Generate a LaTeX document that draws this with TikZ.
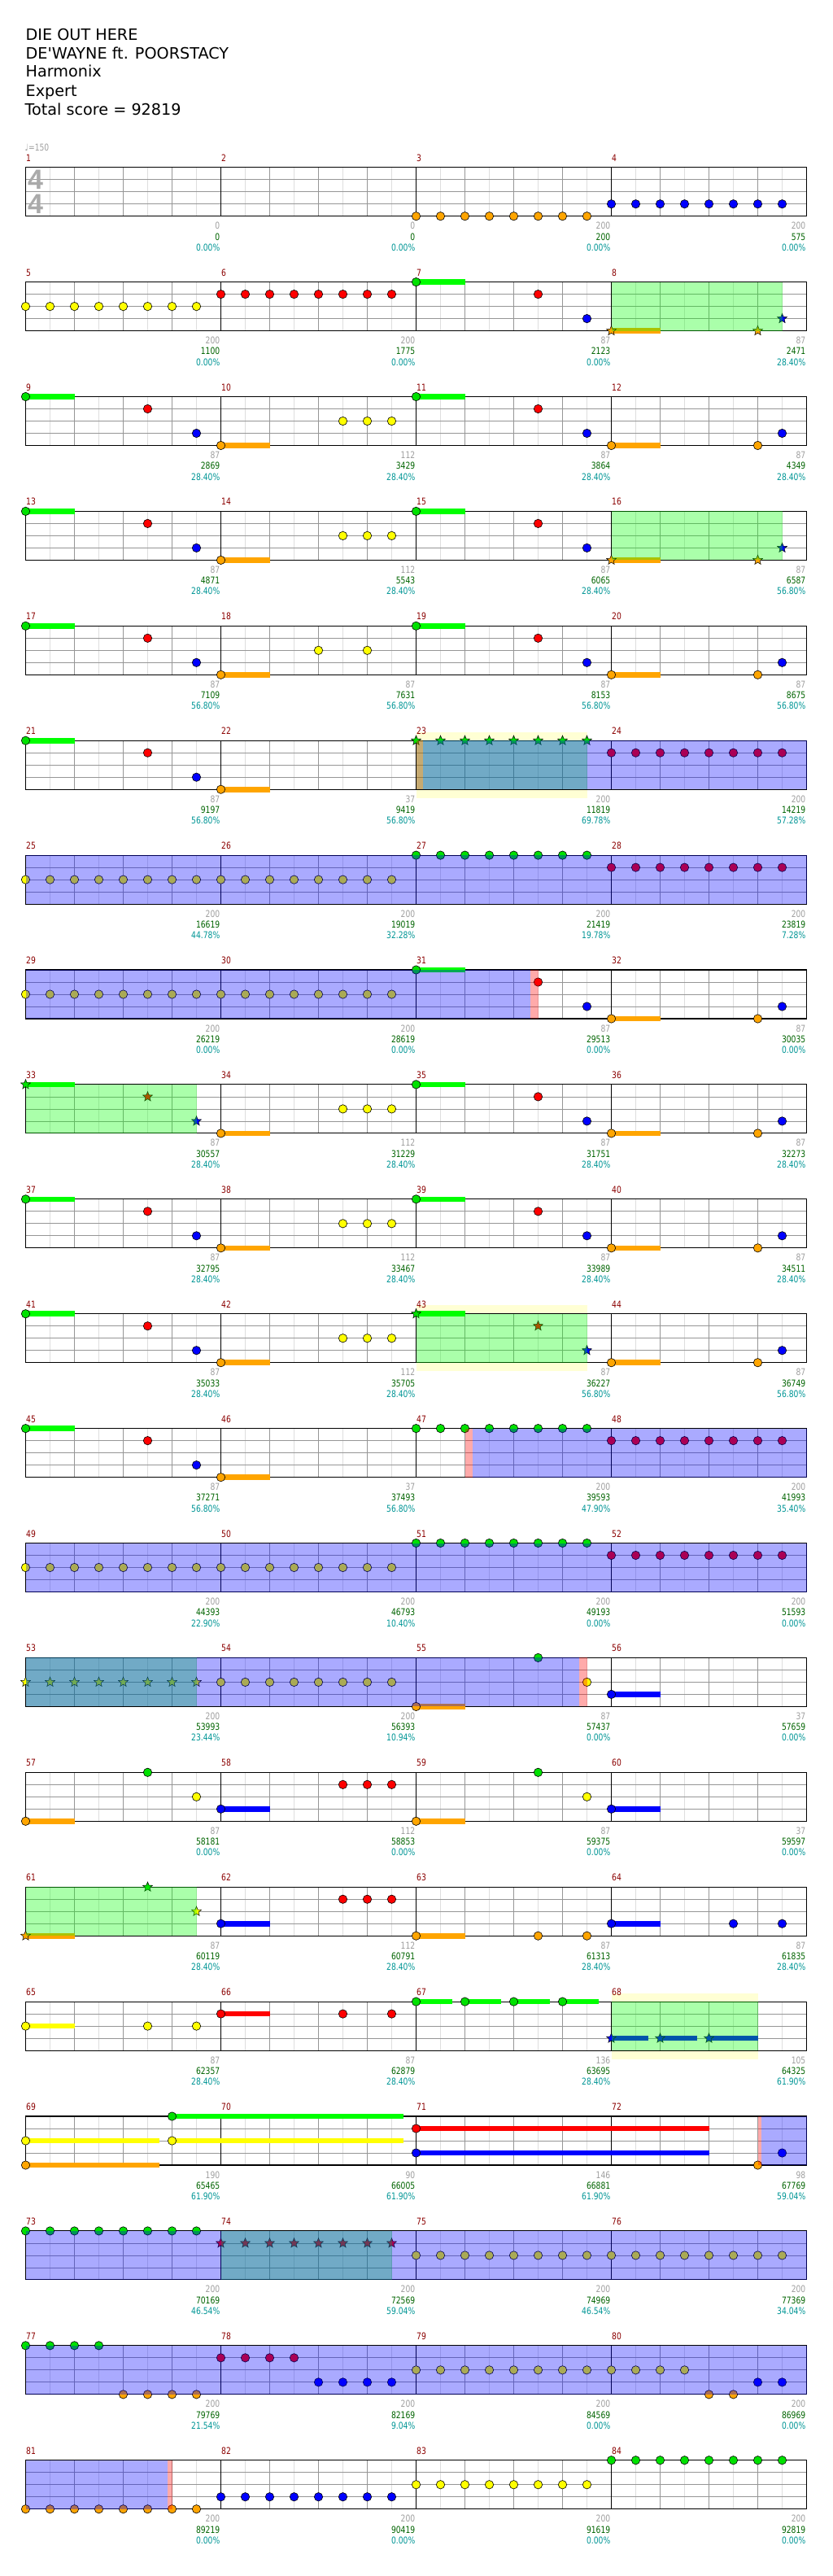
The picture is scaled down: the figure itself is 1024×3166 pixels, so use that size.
\documentclass[tikz,border=0pt]{standalone}
\usepackage{fontspec}
\usetikzlibrary{shapes.geometric}
\newfontfamily\titlefont{DejaVu Sans}
\newfontfamily\labfont[FakeStretch=0.8]{DejaVu Sans}
\newfontfamily\tsfont{Liberation Sans}
\definecolor{lc0}{RGB}{0,225,0}
\definecolor{lc1}{RGB}{255,0,0}
\definecolor{lc2}{RGB}{255,255,0}
\definecolor{lc3}{RGB}{0,0,255}
\definecolor{lc4}{RGB}{255,165,0}
\definecolor{sc0}{RGB}{0,255,0}
\definecolor{sc1}{RGB}{255,0,0}
\definecolor{sc2}{RGB}{255,255,0}
\definecolor{sc3}{RGB}{0,0,255}
\definecolor{sc4}{RGB}{255,165,0}
\definecolor{gridmid}{RGB}{150,150,150}
\definecolor{gridlight}{RGB}{222,222,222}
\definecolor{mnum}{RGB}{139,0,0}
\definecolor{lgray}{RGB}{160,160,160}
\definecolor{lgreen}{RGB}{0,100,0}
\definecolor{lteal}{RGB}{0,150,150}
\definecolor{paley}{RGB}{255,255,212}
\definecolor{tsgray}{RGB}{170,170,170}
\definecolor{spgreen}{RGB}{0,255,0}
\newcommand\gpos[3]{%
  \pgfmathsetmacro\gx{31.5+240*(mod(#1-1,4)+(#2))}%
  \pgfmathsetmacro\gy{205.7+140.9*floor((#1-1)/4)+15*(#3)}}
\newcommand\gnote[3]{\gpos{#1}{#2}{#3}\filldraw[fill=lc#3,draw=black,line width=0.6pt] (\gx,\gy) circle (5.2);}
\newcommand\gstar[3]{\gpos{#1}{#2}{#3}\node[starnote,fill=lc#3] at (\gx,\gy) {};}
\newcommand\gsus[4]{\gpos{#1}{#2}{#4}\let\gxa\gx\gpos{#1}{#3}{#4}\fill[sc#4] (\gxa,\gy-3.3) rectangle (\gx,\gy+3.3);}
\newcommand\greg[4]{\pgfmathsetmacro\ga{31.5+240*(#2)}\pgfmathsetmacro\gb{31.5+240*(#3)}\pgfmathsetmacro\gt{205.7+140.9*(#1)}\fill[#4] (\ga,\gt) rectangle (\gb,\gt+60);}
\newcommand\gyel[3]{\pgfmathsetmacro\ga{31.5+240*(#2)}\pgfmathsetmacro\gb{31.5+240*(#3)}\pgfmathsetmacro\gt{205.7+140.9*(#1)}\fill[paley] (\ga,\gt-10.5) rectangle (\gb,\gt+70.5);}
\begin{document}
\begin{tikzpicture}[x=1pt,y=-1pt,
  starnote/.style={star,star points=5,star point ratio=2.3,minimum size=12.5pt,inner sep=0pt,draw=black,line width=0.5pt},
  spov/.style={fill=spgreen,fill opacity=0.333},
  actov/.style={fill=blue,fill opacity=0.333},
  pinkov/.style={fill=red,fill opacity=0.333},
  labst/.style={anchor=base east,inner sep=0pt,font=\labfont\fontsize{11.5}{12}\selectfont},
  mnumst/.style={anchor=base west,inner sep=0pt,text=mnum,font=\labfont\fontsize{11.5}{12}\selectfont},
  titlest/.style={anchor=base west,inner sep=0pt,font=\titlefont\fontsize{19.2}{23}\selectfont}]
\useasboundingbox (0,0) rectangle (1024,3166);
\fill[white] (0,0) rectangle (1024,3166);
% title
\node[titlest] (t1) at (31.5,49.3) {DIE OUT HERE};
\node[titlest] (t2) at (31.5,72.3) {DE{\char"27}WAYNE ft. POORSTACY};
\node[titlest] (t3) at (31.5,95) {Harmonix};
\node[titlest] (t4) at (31.5,118.3) {Expert};
\node[titlest] (t5) at (30.5,141.7) {Total score = 92819};
\node[anchor=base west,inner sep=0pt,text=lgray,font=\labfont\fontsize{11.5}{12}\selectfont] (tempo) at (30.5,185.3) {♩=150};
% pale yellow regions
\gyel{5}{2}{2.875}
\gyel{10}{2}{2.875}
\gyel{16}{3}{3.75}
% staff grids
\foreach \r in {0,...,20}{
  \pgfmathsetmacro\gt{205.7+140.9*\r}
  \fill[white] (31.5,\gt) rectangle (991.5,\gt+60);
  \foreach \i in {1,3,...,31} \draw[gridlight,line width=0.7pt] (31.5+30*\i,\gt) -- ++(0,60);
  \foreach \i in {2,4,6,10,12,14,18,20,22,26,28,30} \draw[gridmid,line width=0.7pt] (31.5+30*\i,\gt) -- ++(0,60);
  \foreach \j in {1,2,3} \draw[gridmid,line width=0.8pt] (31.5,\gt+15*\j) -- (991.5,\gt+15*\j);
  \foreach \k in {1,2,3} \draw[black,line width=0.8pt] (31.5+240*\k,\gt) -- ++(0,60);
  \draw[black,line width=1.1pt] (31.5,\gt) rectangle (991.5,\gt+60);
}
\node[anchor=base west,inner sep=0pt,text=tsgray,font=\tsfont\bfseries\fontsize{34}{34}\selectfont] (ts1) at (34,232.3) {4};
\node[anchor=base west,inner sep=0pt,text=tsgray,font=\tsfont\bfseries\fontsize{34}{34}\selectfont] (ts2) at (34,262.3) {4};
% runs of eight notes
\foreach \m/\l in {3/4,4/3,5/2,6/1,24/1,25/2,26/2,27/0,28/1,29/2,30/2,47/0,48/1,49/2,50/2,51/0,52/1,54/2,73/0,75/2,76/2,79/2,81/4,82/3,83/2,84/0}
  \foreach \f in {0,...,7} {\gnote{\m}{\f/8}{\l}}
\foreach \m/\l in {23/0,53/2,74/1}
  \foreach \f in {0,...,7} {\gstar{\m}{\f/8}{\l}}
% pattern A
\foreach \m in {7,9,11,13,15,17,19,21,31,35,37,39,41,45}{\gsus{\m}{0}{0.25}{0}\gnote{\m}{0}{0}\gnote{\m}{5/8}{1}\gnote{\m}{7/8}{3}}
% pattern B
\foreach \m in {10,14,34,38,42}{\gsus{\m}{0}{0.25}{4}\gnote{\m}{0}{4}\gnote{\m}{5/8}{2}\gnote{\m}{6/8}{2}\gnote{\m}{7/8}{2}}
% pattern C
\foreach \m in {12,20,32,36,40,44}{\gsus{\m}{0}{0.25}{4}\gnote{\m}{0}{4}\gnote{\m}{6/8}{4}\gnote{\m}{7/8}{3}}
\foreach \m in {8,16}{\gsus{\m}{0}{0.25}{4}\gstar{\m}{0}{4}\gstar{\m}{6/8}{4}\gstar{\m}{7/8}{3}}
\foreach \m in {33,43}{\gsus{\m}{0}{0.25}{0}\gstar{\m}{0}{0}\gstar{\m}{5/8}{1}\gstar{\m}{7/8}{3}}
% others
\gsus{18}{0}{0.25}{4}\gnote{18}{0}{4}\gnote{18}{4/8}{2}\gnote{18}{6/8}{2}
\foreach \m in {22,46}{\gsus{\m}{0}{0.25}{4}\gnote{\m}{0}{4}}
\foreach \m in {55,57,59}{\gsus{\m}{0}{0.25}{4}\gnote{\m}{0}{4}\gnote{\m}{5/8}{0}\gnote{\m}{7/8}{2}}
\foreach \m in {56,60}{\gsus{\m}{0}{0.25}{3}\gnote{\m}{0}{3}}
\foreach \m in {58,62}{\gsus{\m}{0}{0.25}{3}\gnote{\m}{0}{3}\gnote{\m}{5/8}{1}\gnote{\m}{6/8}{1}\gnote{\m}{7/8}{1}}
\gsus{61}{0}{0.25}{4}\gstar{61}{0}{4}\gstar{61}{5/8}{0}\gstar{61}{7/8}{2}
\foreach \m/\l in {63/4,64/3,65/2,66/1}{\gsus{\m}{0}{0.25}{\l}\gnote{\m}{0}{\l}\gnote{\m}{5/8}{\l}\gnote{\m}{7/8}{\l}}
\foreach \f in {0,0.25,0.5,0.75}{\gsus{67}{\f}{\f+0.185}{0}\gnote{67}{\f}{0}}
\gsus{68}{0}{0.19}{3}\gsus{68}{0.25}{0.44}{3}\gsus{68}{0.5}{0.75}{3}
\gstar{68}{0}{3}\gstar{68}{0.25}{3}\gstar{68}{0.5}{3}
\gsus{69}{0}{0.687}{2}\gsus{69}{0}{0.687}{4}\gsus{69}{0.75}{1.935}{0}\gsus{69}{0.75}{1.935}{2}
\gnote{69}{0}{2}\gnote{69}{0}{4}\gnote{69}{0.75}{0}\gnote{69}{0.75}{2}
\gsus{71}{0}{1.5}{1}\gsus{71}{0}{1.5}{3}\gnote{71}{0}{1}\gnote{71}{0}{3}
\gnote{72}{6/8}{4}\gnote{72}{7/8}{3}
\foreach \f in {0,1,2,3}{\gnote{77}{\f/8}{0}\gnote{78}{\f/8}{1}\gnote{80}{\f/8}{2}}
\foreach \f in {4,5,6,7}{\gnote{77}{\f/8}{4}\gnote{78}{\f/8}{3}}
\gnote{80}{4/8}{4}\gnote{80}{5/8}{4}\gnote{80}{6/8}{3}\gnote{80}{7/8}{3}
% star power regions
\greg{1}{3}{3.875}{spov}
\greg{3}{3}{3.875}{spov}
\greg{5}{2}{2.875}{spov}
\greg{8}{0}{0.875}{spov}
\greg{10}{2}{2.875}{spov}
\greg{13}{0}{0.875}{spov}
\greg{15}{0}{0.875}{spov}
\greg{16}{3}{3.75}{spov}
\greg{18}{1}{1.875}{spov}
% pink strips
\greg{5}{2}{2.035}{pinkov}
\greg{7}{2.585}{2.625}{pinkov}
\greg{11}{2.25}{2.29}{pinkov}
\greg{13}{2.835}{2.875}{pinkov}
\greg{17}{3.75}{3.77}{pinkov}
\greg{20}{0.725}{0.75}{pinkov}
% activation regions
\greg{5}{2.035}{4}{actov}
\greg{6}{0}{4}{actov}
\greg{7}{0}{2.585}{actov}
\greg{11}{2.29}{4}{actov}
\greg{12}{0}{4}{actov}
\greg{13}{0}{2.835}{actov}
\greg{17}{3.77}{4}{actov}
\greg{18}{0}{4}{actov}
\greg{19}{0}{4}{actov}
\greg{20}{0}{0.725}{actov}
% measure numbers
\foreach \m in {1,...,84}{
  \pgfmathsetmacro\gx{31.5+240*mod(\m-1,4)+0.5}
  \pgfmathsetmacro\gt{205.7+140.9*floor((\m-1)/4)}
  \node[mnumst] (mn\m) at (\gx,\gt-7.5) {\m};
}
% labels
\foreach \m/\a/\b/\c in {1/0/0/0.00,2/0/0/0.00,3/200/200/0.00,4/200/575/0.00,
5/200/1100/0.00,6/200/1775/0.00,7/87/2123/0.00,8/87/2471/28.40,
9/87/2869/28.40,10/112/3429/28.40,11/87/3864/28.40,12/87/4349/28.40,
13/87/4871/28.40,14/112/5543/28.40,15/87/6065/28.40,16/87/6587/56.80,
17/87/7109/56.80,18/87/7631/56.80,19/87/8153/56.80,20/87/8675/56.80,
21/87/9197/56.80,22/37/9419/56.80,23/200/11819/69.78,24/200/14219/57.28,
25/200/16619/44.78,26/200/19019/32.28,27/200/21419/19.78,28/200/23819/7.28,
29/200/26219/0.00,30/200/28619/0.00,31/87/29513/0.00,32/87/30035/0.00,
33/87/30557/28.40,34/112/31229/28.40,35/87/31751/28.40,36/87/32273/28.40,
37/87/32795/28.40,38/112/33467/28.40,39/87/33989/28.40,40/87/34511/28.40,
41/87/35033/28.40,42/112/35705/28.40,43/87/36227/56.80,44/87/36749/56.80,
45/87/37271/56.80,46/37/37493/56.80,47/200/39593/47.90,48/200/41993/35.40,
49/200/44393/22.90,50/200/46793/10.40,51/200/49193/0.00,52/200/51593/0.00,
53/200/53993/23.44,54/200/56393/10.94,55/87/57437/0.00,56/37/57659/0.00,
57/87/58181/0.00,58/112/58853/0.00,59/87/59375/0.00,60/37/59597/0.00,
61/87/60119/28.40,62/112/60791/28.40,63/87/61313/28.40,64/87/61835/28.40,
65/87/62357/28.40,66/87/62879/28.40,67/136/63695/28.40,68/105/64325/61.90,
69/190/65465/61.90,70/90/66005/61.90,71/146/66881/61.90,72/98/67769/59.04,
73/200/70169/46.54,74/200/72569/59.04,75/200/74969/46.54,76/200/77369/34.04,
77/200/79769/21.54,78/200/82169/9.04,79/200/84569/0.00,80/200/86969/0.00,
81/200/89219/0.00,82/200/90419/0.00,83/200/91619/0.00,84/200/92819/0.00}{
  \pgfmathsetmacro\gx{31.5+240*(mod(\m-1,4)+1)-1}
  \pgfmathsetmacro\gb{205.7+140.9*floor((\m-1)/4)+60}
  \node[labst,text=lgray] (la\m) at (\gx,\gb+16) {\a};
  \node[labst,text=lgreen] (lb\m) at (\gx,\gb+29.3) {\b};
  \node[labst,text=lteal] (lc\m) at (\gx,\gb+42.5) {\c\%};
}
\end{tikzpicture}
\end{document}
